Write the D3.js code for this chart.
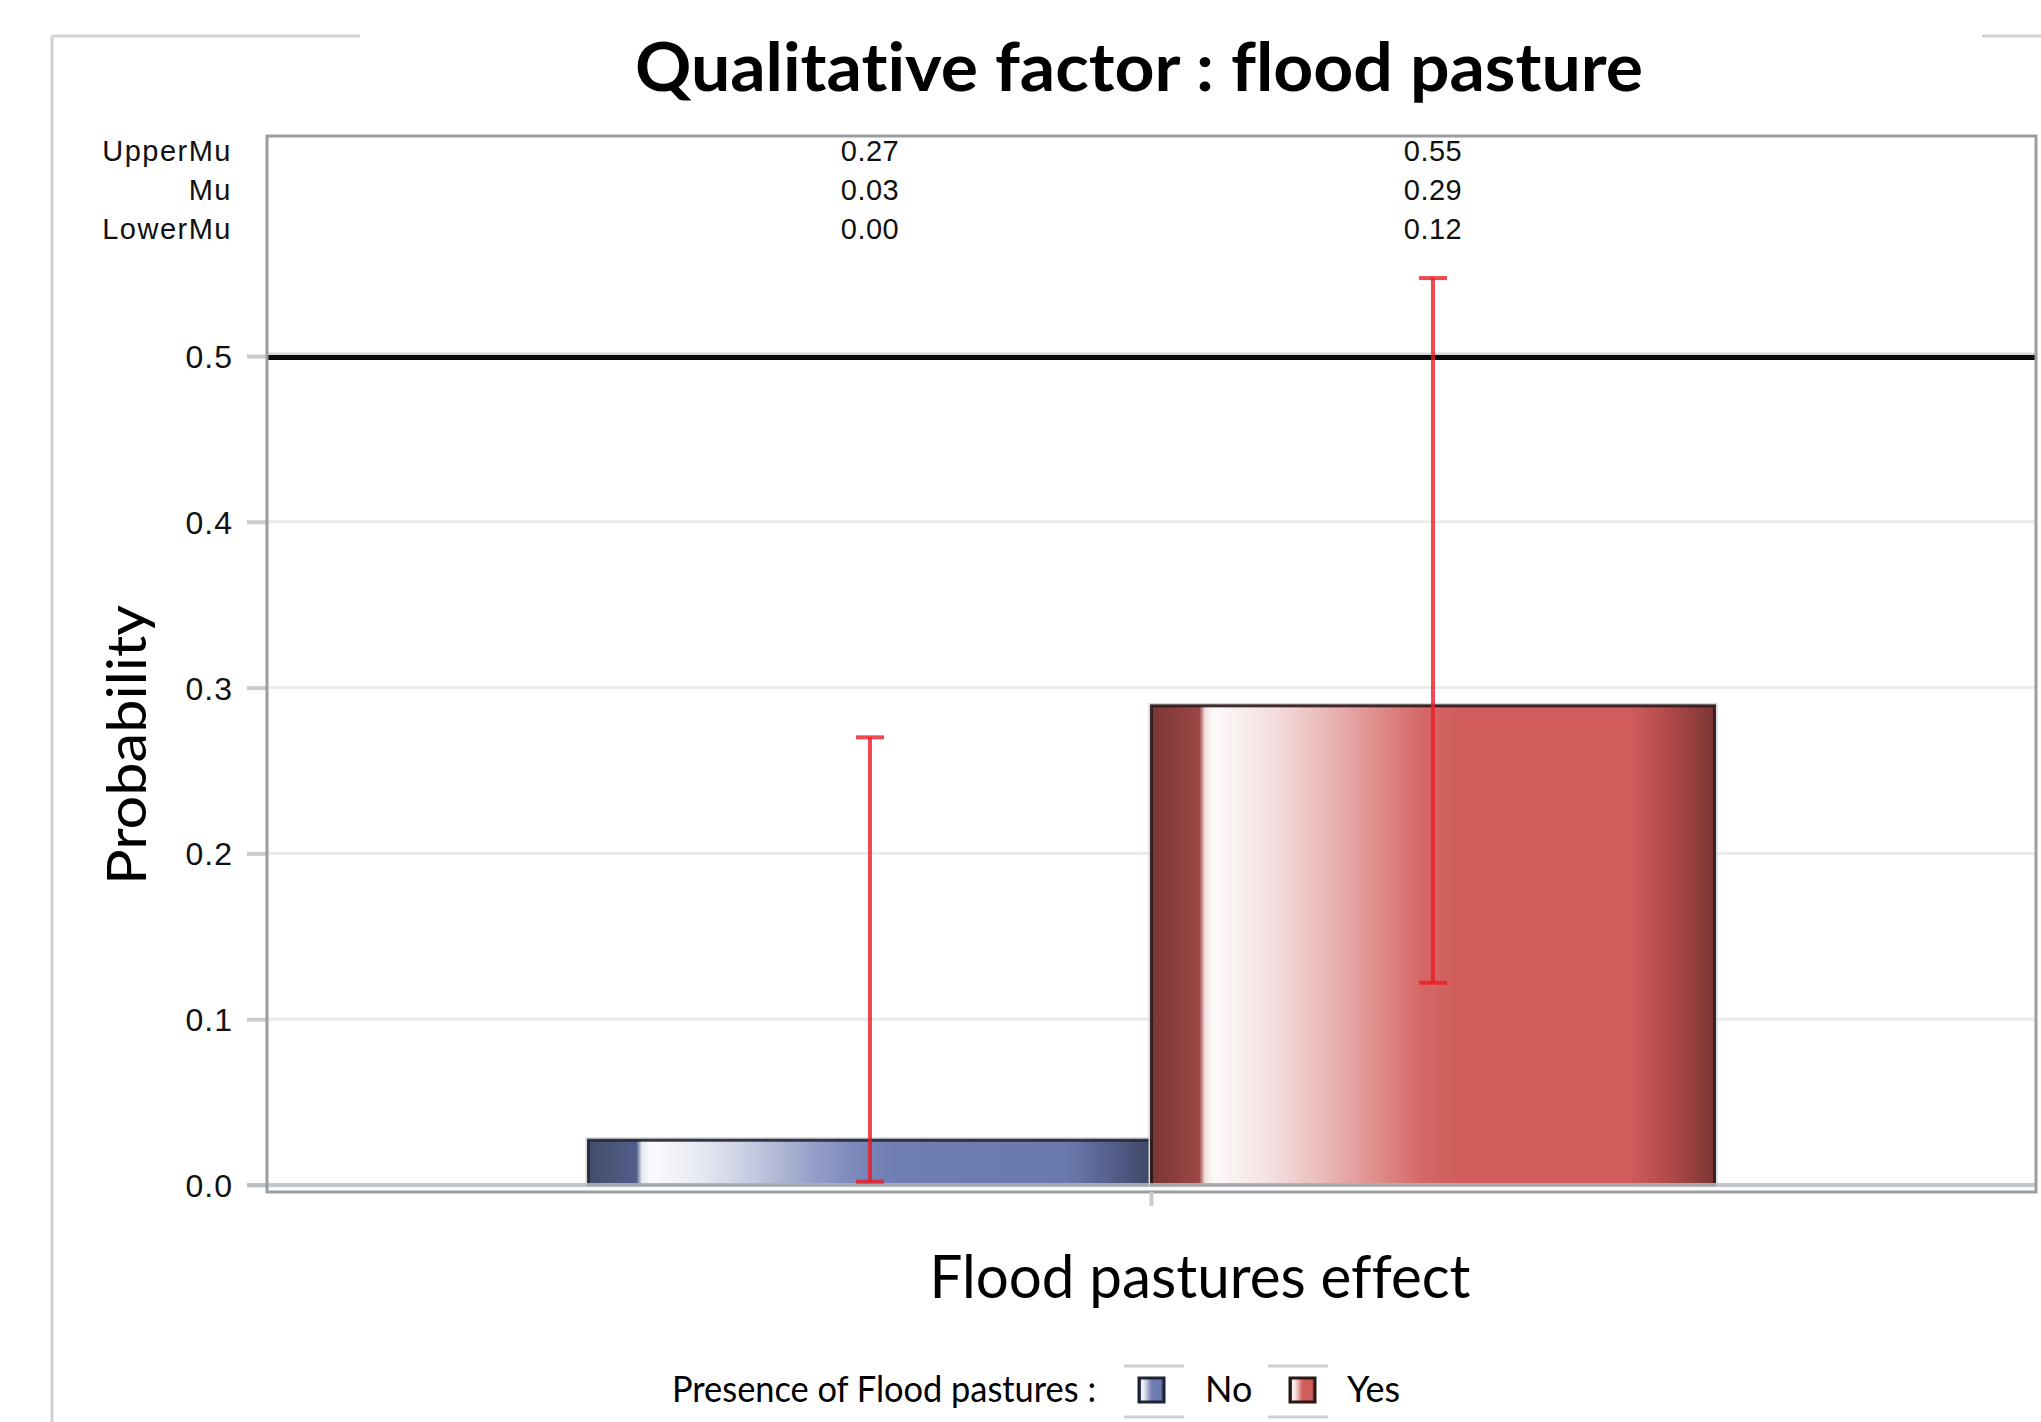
<!DOCTYPE html>
<html>
<head>
<meta charset="utf-8">
<script src="https://cdn.jsdelivr.net/npm/d3@7"></script>
<style>
  html, body { margin: 0; padding: 0; background: #fff; }
  svg { display: block; }
  text { font-variant-ligatures: none; font-feature-settings: "liga" 0, "clig" 0; }
</style>
</head>
<body>
<script>
// ---------- data ----------
const categories = ["No", "Yes"];
const mu = [0.027, 0.289];
const upperMu = [0.27, 0.547];
const lowerMu = [0.002, 0.122];
const yTicks = [0, 0.1, 0.2, 0.3, 0.4, 0.5];
const refLine = 0.5;
const statRows = ["UpperMu", "Mu", "LowerMu"];
const titleText = "Qualitative factor : flood pasture";
const xLabel = "Flood pastures effect";
const yLabel = "Probability";
const legendTitle = "Presence of Flood pastures :";

// ---------- layout ----------
const W = 2041, H = 1422;
const plot = { left: 267, right: 2036, top: 136, bottom: 1192 };
const yZero = 1185, yHalf = 356;

const svg = d3.select("body").append("svg").attr("width", W).attr("height", H);
svg.append("rect").attr("width", W).attr("height", H).attr("fill", "#fff");

const y = d3.scaleLinear().domain([0, 0.5]).range([yZero, yHalf]);
const xOuter = d3.scaleBand().domain(["flood"]).range([plot.left, plot.right])
  .paddingInner(0).paddingOuter(0.2855);
const xInner = d3.scaleBand().domain(categories).range([0, xOuter.bandwidth()]).padding(0);
const xPos = c => xOuter("flood") + xInner(c);

// gradients
const defs = svg.append("defs");
const gradStops = {
  Yes: [[0, "#7a3535"], [0.085, "#9c4746"], [0.095, "#f3e2e2"], [0.11, "#fdf9f9"], [0.2, "#f5e4e4"],
        [0.3, "#ebbcbc"], [0.4, "#df8d8c"], [0.48, "#d46867"], [0.55, "#d05c5b"], [0.85, "#d05c5b"],
        [0.92, "#b04a49"], [1, "#7a3535"]],
  No:  [[0, "#434c6b"], [0.085, "#525e8a"], [0.095, "#e6e9f1"], [0.11, "#fbfbfd"], [0.2, "#e6e9f2"],
        [0.3, "#c1c7de"], [0.4, "#959fc8"], [0.48, "#7a87ba"], [0.55, "#6e7db2"], [0.85, "#6b7aae"],
        [0.92, "#56628f"], [1, "#3e4766"]]
};
const strokeCol = { No: "#1f2333", Yes: "#2b1616" };
categories.forEach(c => {
  const g = defs.append("linearGradient").attr("id", "g" + c)
    .attr("x1", "0").attr("x2", "1").attr("y1", "0").attr("y2", "0");
  gradStops[c].forEach(s => g.append("stop").attr("offset", s[0]).attr("stop-color", s[1]));
});

// outer decorative frame
svg.append("path").attr("d", `M52,36 H360 M52,36 V${H}`)
  .attr("stroke", "#d2d2d2").attr("stroke-width", 3).attr("fill", "none");
svg.append("path").attr("d", `M1982,36 H${W}`)
  .attr("stroke", "#d2d2d2").attr("stroke-width", 3).attr("fill", "none");

// gridlines
svg.append("g").selectAll("line").data(yTicks.filter(t => t > 0)).join("line")
  .attr("x1", plot.left).attr("x2", plot.right)
  .attr("y1", d => y(d)).attr("y2", d => y(d))
  .attr("stroke", "#ebebeb").attr("stroke-width", 3);

// y axis ticks & labels
const yAxis = d3.axisLeft(y).tickValues(yTicks).tickFormat(d3.format(".1f")).tickSize(20).tickPadding(14);
const yg = svg.append("g").attr("transform", `translate(${plot.left},0)`).call(yAxis);
yg.select(".domain").remove();
yg.selectAll(".tick line").attr("stroke", "#c9cbcd").attr("stroke-width", 4);
yg.selectAll(".tick text").attr("font-family", "Liberation Sans, Arial, sans-serif")
  .attr("font-size", 32).attr("fill", "#111").attr("letter-spacing", 1).attr("dy", "0.36em");

// bars
const bars = svg.append("g");
categories.forEach((c, i) => {
  bars.append("rect")
    .attr("x", xPos(c) - 2).attr("y", y(mu[i]) - 2)
    .attr("width", xInner.bandwidth() + 4).attr("height", y(0) - y(mu[i]) + 2)
    .attr("fill", "none").attr("stroke", "#d6d9de").attr("stroke-width", 2);
  bars.append("rect")
    .attr("x", xPos(c)).attr("y", y(mu[i]))
    .attr("width", xInner.bandwidth()).attr("height", y(0) - y(mu[i]))
    .attr("fill", `url(#g${c})`)
    .attr("stroke", strokeCol[c]).attr("stroke-width", 3).attr("stroke-opacity", 0.9);
});

// zero line
svg.append("line").attr("x1", plot.left - 20).attr("x2", plot.right)
  .attr("y1", y(0)).attr("y2", y(0)).attr("stroke", "#b9bdc1").attr("stroke-width", 4).attr("stroke-opacity", 0.85);

// reference line
svg.append("line").attr("x1", plot.left).attr("x2", plot.right)
  .attr("y1", y(refLine) - 2).attr("y2", y(refLine) - 2).attr("stroke", "#d8d8d8").attr("stroke-width", 3);
svg.append("line").attr("x1", plot.left).attr("x2", plot.right)
  .attr("y1", y(refLine) + 1.5).attr("y2", y(refLine) + 1.5).attr("stroke", "#0a0a0a").attr("stroke-width", 5);

// error bars
const eb = svg.append("g").attr("stroke", "#ec1c24").attr("stroke-opacity", 0.8).attr("stroke-width", 4);
const capW = 28;
categories.forEach((c, i) => {
  const cx = xPos(c) + xInner.bandwidth() / 2;
  eb.append("line").attr("x1", cx).attr("x2", cx).attr("y1", y(upperMu[i])).attr("y2", y(lowerMu[i]));
  eb.append("line").attr("x1", cx - capW / 2).attr("x2", cx + capW / 2).attr("y1", y(upperMu[i])).attr("y2", y(upperMu[i]));
  eb.append("line").attr("x1", cx - capW / 2).attr("x2", cx + capW / 2).attr("y1", y(lowerMu[i])).attr("y2", y(lowerMu[i]));
});

// plot frame
svg.append("rect").attr("x", plot.left).attr("y", plot.top)
  .attr("width", plot.right - plot.left).attr("height", plot.bottom - plot.top)
  .attr("fill", "none").attr("stroke", "#9a9ea2").attr("stroke-width", 3);

// x tick
const xAxis = d3.axisBottom(xOuter).tickSize(14).tickFormat("");
const xg = svg.append("g").attr("transform", `translate(0,${plot.bottom})`).call(xAxis);
xg.select(".domain").remove();
xg.selectAll(".tick line").attr("stroke", "#c9cbcd").attr("stroke-width", 4);

// stat table
const statFont = "Liberation Sans, Arial, sans-serif";
const statBase = [161, 200, 239];
const statVals = [upperMu, mu, lowerMu];
statRows.forEach((r, k) => {
  svg.append("text").attr("x", 232).attr("y", statBase[k]).attr("text-anchor", "end")
    .attr("font-family", statFont).attr("font-size", 29).attr("letter-spacing", 1.5).attr("fill", "#111").text(r);
  categories.forEach((c, i) => {
    svg.append("text").attr("x", xPos(c) + xInner.bandwidth() / 2).attr("y", statBase[k])
      .attr("text-anchor", "middle").attr("font-family", statFont).attr("font-size", 29)
      .attr("letter-spacing", 0.5).attr("fill", "#111").text(d3.format(".2f")(statVals[k][i]));
  });
});

// text helper
const calib = "Lato, 'Open Sans', sans-serif";
function fitText(sel, len) {
  sel.attr("textLength", len).attr("lengthAdjust", "spacingAndGlyphs");
  return sel;
}

// title
fitText(svg.append("text").attr("x", 1139).attr("y", 91).attr("text-anchor", "middle")
  .attr("font-family", calib).attr("font-weight", 700).attr("font-size", 67).attr("fill", "#000")
  .text(titleText), 1008);

// axis labels
fitText(svg.append("text").attr("transform", "translate(146,745) rotate(-90)").attr("text-anchor", "middle")
  .attr("font-family", calib).attr("font-size", 54).attr("fill", "#000").text(yLabel), 280);
fitText(svg.append("text").attr("x", 1200).attr("y", 1298).attr("text-anchor", "middle")
  .attr("font-family", calib).attr("font-size", 60).attr("fill", "#000").text(xLabel), 541);

// legend
fitText(svg.append("text").attr("x", 672).attr("y", 1402)
  .attr("font-family", calib).attr("font-size", 36).attr("fill", "#000").text(legendTitle), 424);
const legendItems = [
  { c: "No", sx: 1139, lx1: 1124, lx2: 1184, tx: 1205 },
  { c: "Yes", sx: 1290, lx1: 1268, lx2: 1328, tx: 1347 }
];
legendItems.forEach(li => {
  svg.append("line").attr("x1", li.lx1).attr("x2", li.lx2).attr("y1", 1366).attr("y2", 1366)
    .attr("stroke", "#cfcfcf").attr("stroke-width", 3);
  svg.append("line").attr("x1", li.lx1).attr("x2", li.lx2).attr("y1", 1417).attr("y2", 1417)
    .attr("stroke", "#cfcfcf").attr("stroke-width", 3);
  svg.append("rect").attr("x", li.sx).attr("y", 1378).attr("width", 25).attr("height", 24)
    .attr("fill", `url(#g${li.c})`).attr("stroke", strokeCol[li.c]).attr("stroke-width", 3);
  svg.append("text").attr("x", li.tx).attr("y", 1402)
    .attr("font-family", calib).attr("font-size", 36).attr("fill", "#000").text(li.c);
});
</script>
</body>
</html>
